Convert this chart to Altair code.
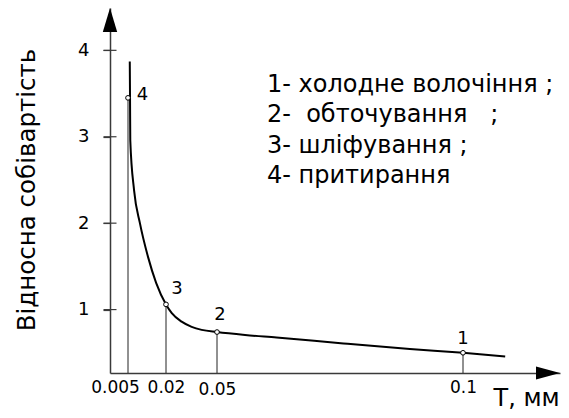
import altair as alt
import pandas as pd

# ---- data ----
curve_T = [0.0057, 0.0058, 0.0059, 0.0074, 0.0097, 0.0129, 0.0161, 0.0200,
           0.0234, 0.0292, 0.0351, 0.0410, 0.0500, 0.0557, 0.0621, 0.0757,
           0.0892, 0.1000, 0.1087]
curve_v = [3.87, 3.45, 2.96, 2.38, 2.00, 1.61, 1.31, 1.06,
           0.96, 0.86, 0.80, 0.765, 0.74, 0.706, 0.677, 0.608,
           0.544, 0.50, 0.457]

point_T = [0.1, 0.05, 0.02, 0.005]
point_v = [0.50, 0.74, 1.06, 3.45]
point_labels = ["1", "2", "3", "4"]

x_ticks = [0.005, 0.02, 0.05, 0.1]
y_ticks = [1, 2, 3, 4]

legend_lines = [
    "1- холодне волочіння ;",
    "2-\u00a0 обточування\u00a0\u00a0 ;",
    "3- шліфування ;",
    "4- притирання",
]

x_title = "T, мм"
y_title = "Відносна собівартість"

# axis extents (hand-drawn, non-uniform T axis)
X_DOMAIN = [0, 0.005, 0.02, 0.05, 0.1, 0.12]
Y_MIN, Y_MAX = 0.266, 4.49

# ---- scale / axis styling ----
W, H = 450, 365
FONT = "DejaVu Sans"
x_scale = alt.Scale(domain=X_DOMAIN, range=[0, 18, 56, 107, 353, 450], nice=False, zero=False)
y_scale = alt.Scale(domain=[Y_MIN, Y_MAX], nice=False, zero=False)

AX_COL = "#3a3a3a"
x_axis = alt.Axis(
    values=x_ticks, ticks=False, tickSize=0, grid=False,
    domainColor=AX_COL, domainWidth=1.5,
    labelFont=FONT, labelFontSize=17, labelColor="black",
    labelPadding={"condition": {"test": "datum.value == 0.05", "value": 8}, "value": 6},
    labelOffset={"condition": {"test": "datum.value == 0.005", "value": -13}, "value": 0},
    labelOverlap=False, labelFlush=False,
    format=".3~f",
    title=x_title, titleFont=FONT, titleFontSize=24, titleFontWeight="normal",
    titleColor="black", titleAlign="left", titleBaseline="alphabetic",
    titleX=383, titleY=32,
)
y_axis = alt.Axis(
    values=y_ticks, ticks=True, tickSize=7, tickColor=AX_COL, tickWidth=1.2, grid=False,
    domainColor=AX_COL, domainWidth=1.5,
    labelFont=FONT, labelFontSize=18, labelColor="black",
    labelPadding=14, labelOverlap=False, labelFlush=False, format="d",
    title=y_title, titleFont=FONT, titleFontSize=24.5, titleFontWeight="normal",
    titleColor="black", titleAngle=270, titleAlign="center", titleBaseline="alphabetic",
    titleX=-76, titleY=181.5,
)


def X(field="T"):
    return alt.X(f"{field}:Q", scale=x_scale, axis=x_axis)


def Y(field="v"):
    return alt.Y(f"{field}:Q", scale=y_scale, axis=y_axis)


curve_df = pd.DataFrame({"T": curve_T, "v": curve_v})
pts_df = pd.DataFrame({"T": point_T, "v": point_v, "label": point_labels})
ticks_df = pd.DataFrame({"T": [X_DOMAIN[0]] * len(y_ticks), "v": y_ticks})
xarrow_df = pd.DataFrame({"T": [X_DOMAIN[-1]], "v": [Y_MIN]})
yarrow_df = pd.DataFrame({"T": [X_DOMAIN[0]], "v": [Y_MAX]})
legend_df = pd.DataFrame({"text": ["\n".join(legend_lines)]})

drops = alt.Chart(pts_df).mark_rule(color="#222222", strokeWidth=1).encode(
    x=X(), y=Y(), y2=alt.datum(Y_MIN)
)

curve = alt.Chart(curve_df).mark_line(
    color="black", strokeWidth=2, interpolate="monotone"
).encode(x=X(), y=Y())

inner_ticks = alt.Chart(ticks_df).mark_tick(
    orient="horizontal", size=13, thickness=1.2, color=AX_COL, opacity=1
).encode(x=X(), y=Y())

x_arrow = alt.Chart(xarrow_df).mark_point(
    shape="M0,0L-2,-0.54L-2,0.54Z", size=576, filled=True, color="black", opacity=1, strokeWidth=0
).encode(x=X(), y=Y())

y_arrow = alt.Chart(yarrow_df).mark_point(
    shape="M0,0L0.6,2L-0.6,2Z", size=576, filled=True, color="black", opacity=1, strokeWidth=0
).encode(x=X(), y=Y())

circles = alt.Chart(pts_df).mark_point(
    shape="circle", size=22, fill="white", stroke="black", strokeWidth=1,
    opacity=1, fillOpacity=1
).encode(x=X(), y=Y())

label_offsets = {"1": (0, -14), "2": (3, -17), "3": (11, -15.5), "4": (14.5, -2.5)}
label_layers = []
for lab in point_labels:
    dx, dy = label_offsets[lab]
    label_layers.append(
        alt.Chart(pts_df).transform_filter(alt.datum.label == lab).mark_text(
            font=FONT, fontSize=18, color="black",
            align="center", baseline="middle", dx=dx, dy=dy
        ).encode(x=X(), y=Y(), text="label:N")
    )

legend = alt.Chart(legend_df).mark_text(
    font=FONT, fontSize=24, color="black", align="left",
    baseline="alphabetic", lineBreak="\n", lineHeight=30.5
).encode(x=alt.value(157), y=alt.value(83.7), text="text:N")

chart = alt.layer(
    drops, curve, inner_ticks, x_arrow, y_arrow, circles, *label_layers, legend
).properties(
    width=W, height=H,
    autosize=alt.AutoSizeParams(type="none"),
    padding={"left": 102, "top": 0, "right": 1, "bottom": 37},
    background="white",
).configure_view(stroke=None)

chart.save("out.html", embed_options={"renderer": "svg", "actions": False})
